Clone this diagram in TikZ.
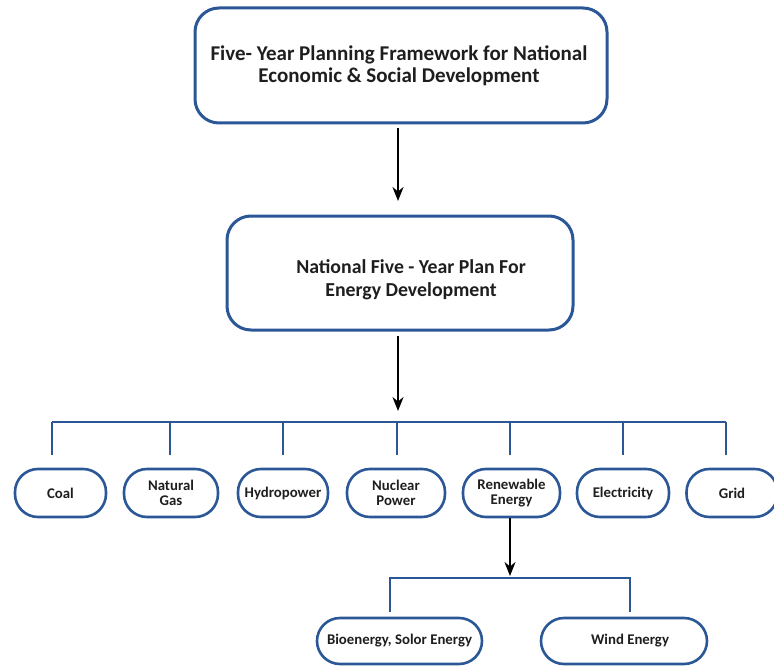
\documentclass[tikz,border=0pt]{standalone}
\usepackage{fontspec}
\setmainfont{Carlito}
\usetikzlibrary{arrows.meta}
\definecolor{bblue}{HTML}{2B5797}
\definecolor{ink}{HTML}{1E1E1E}
\begin{document}
\begin{tikzpicture}[x=1pt,y=-1pt,
  bigbox/.style={draw=bblue,line width=3pt,rounded corners=24pt,fill=white},
  pill/.style={draw=bblue,line width=2.6pt,rounded corners=23pt,minimum height=48pt,inner sep=0pt,text=ink,font=\bfseries\fontsize{14.8}{15.5}\selectfont,align=center},
  lbl/.style={text=ink,align=center,inner sep=0pt},
  bus/.style={draw=bblue,line width=1.5pt},
  arr/.style={draw=black,line width=2pt,-{Stealth[length=14pt,width=11pt]}}]
\useasboundingbox (0,0) rectangle (774,666);
% top
\node[bigbox,minimum width=412pt,minimum height=115pt] (top) at (401,65.5) {};
\node[lbl,font=\bfseries\fontsize{21}{22}\selectfont] (toptxt) at (399,66) {Five- Year Planning Framework for National\\Economic \& Social Development};
% middle
\node[bigbox,minimum width=346pt,minimum height=114pt] (mid) at (400,273) {};
\node[lbl,font=\bfseries\fontsize{19.8}{23}\selectfont] (midtxt) at (411,280) {National Five - Year Plan For\\Energy Development};
\coordinate (a1s) at (398,128);
\coordinate (a1e) at (398,201);
\draw[arr] (a1s) -- (a1e);
\coordinate (a2s) at (398,336);
\coordinate (a2e) at (398,411);
\draw[arr] (a2s) -- (a2e);
% bus
\coordinate (busL) at (52,422);
\coordinate (busR) at (726,422);
\draw[bus] (busL) -- (busR);
\foreach \x/\n in {52/d1,170/d2,283/d3,397/d4,510/d5,623/d6,726/d7}{
  \coordinate (\n t) at (\x,422);
  \coordinate (\n b) at (\x,455);
  \draw[bus] (\n t) -- (\n b);
}
% row
\node[pill,minimum width=91pt] (coal) at (60.5,493) {Coal};
\node[pill,minimum width=94pt] (gas) at (171,493) {Natural\\Gas};
\node[pill,minimum width=90pt] (hydro) at (283,493) {Hydropower};
\node[pill,minimum width=98pt] (nuc) at (396,493) {Nuclear\\Power};
\node[pill,minimum width=97pt] (ren) at (511.5,493) {Renewable\\Energy};
\node[pill,minimum width=92pt] (elec) at (623,493) {Electricity};
\node[pill,minimum width=91pt] (grid) at (732,493) {Grid};
% renewable arrow
\coordinate (a3e) at (510,576);
\draw[arr] (ren.south -| 510,0) -- (a3e);
% sub bus
\coordinate (sbL) at (390,578);
\coordinate (sbR) at (630,578);
\coordinate (sbLb) at (390,612);
\coordinate (sbRb) at (630,612);
\draw[bus] (sbLb) -- (sbL) -- (sbR) -- (sbRb);
\node[pill,minimum width=165pt,minimum height=46pt] (bio) at (399.5,641) {Bioenergy, Solor Energy};
\node[pill,minimum width=166pt,minimum height=46pt] (wind) at (624,641) {\hspace*{12pt}Wind Energy};
\end{tikzpicture}
\end{document}
